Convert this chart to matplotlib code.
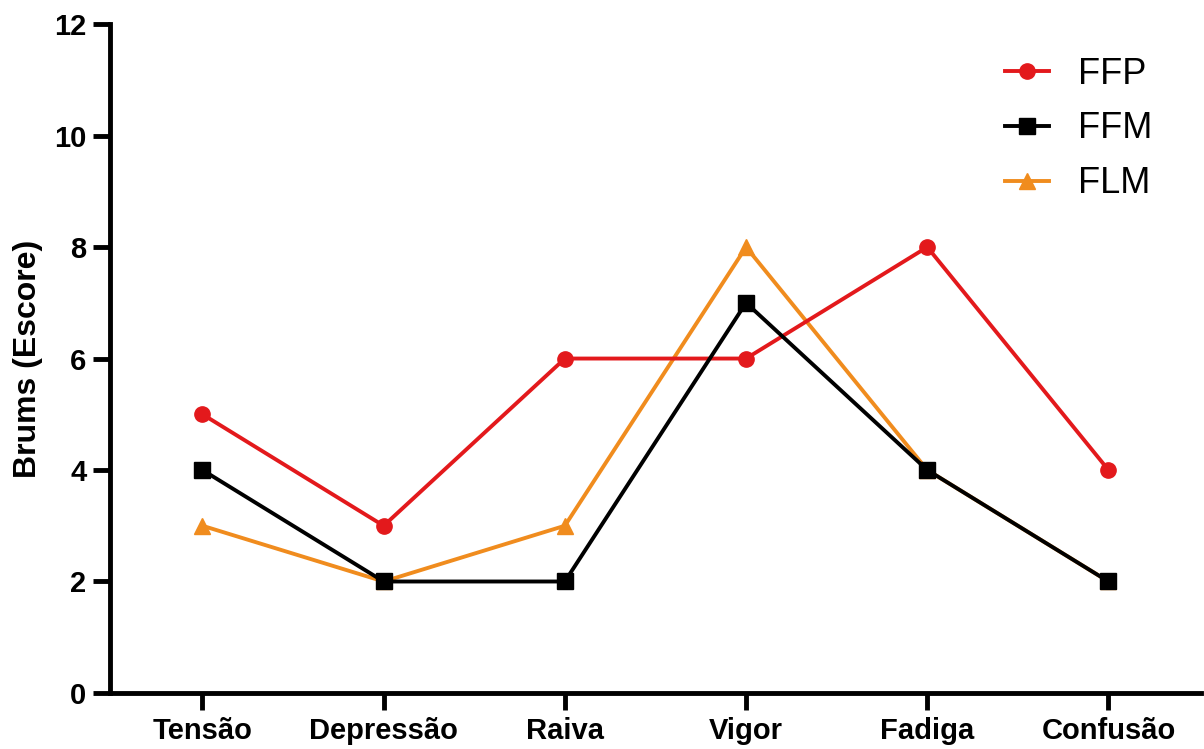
import numpy as np
import matplotlib.pyplot as plt
import matplotlib as mpl
mpl.rcParams['font.family'] = ['Liberation Sans', 'DejaVu Sans']

categorias = ["Tensão", "Depressão", "Raiva", "Vigor", "Fadiga", "Confusão"]
ffp = [5, 3, 6, 6, 8, 4]
ffm = [4, 2, 2, 7, 4, 2]
flm = [3, 2, 3, 8, 4, 2]

fig = plt.figure(figsize=(12.04, 7.49), dpi=100)
ax = fig.add_axes((0.0914, 0.0748, 0.906, 0.893))
pos = np.arange(len(categorias))

ax.plot(pos, ffp, color='#e3191c', lw=2.8, marker='o', ms=11, label='FFP', zorder=3)
ax.plot(pos, ffm, color='black', lw=2.8, marker='s', ms=11, label='FFM', zorder=4)
ax.plot(pos, flm, color='#f08c1e', lw=2.8, marker='^', ms=11, label='FLM', zorder=2)

ax.set_xlim(-0.51, 5.51)
ax.set_ylim(0, 12)
ax.set_yticks(range(0, 13, 2))
ax.set_xticks(pos)
ax.set_xticklabels(categorias)
for s in ['top', 'right']:
  ax.spines[s].set_visible(False)
for s in ['left', 'bottom']:
  ax.spines[s].set_linewidth(3.5)
ax.tick_params(width=3.5, length=12, labelsize=21, pad=5)
for lbl in ax.get_xticklabels() + ax.get_yticklabels():
  lbl.set_fontweight('bold')
ax.set_ylabel('Brums (Escore)', fontsize=23, fontweight='bold', labelpad=8)

leg = ax.legend(loc='upper right', bbox_to_anchor=(0.985, 1.0), frameon=False,
                fontsize=26, handlelength=1.2, labelspacing=0.55, handletextpad=0.8)

plt.savefig('out.png', dpi=100)
